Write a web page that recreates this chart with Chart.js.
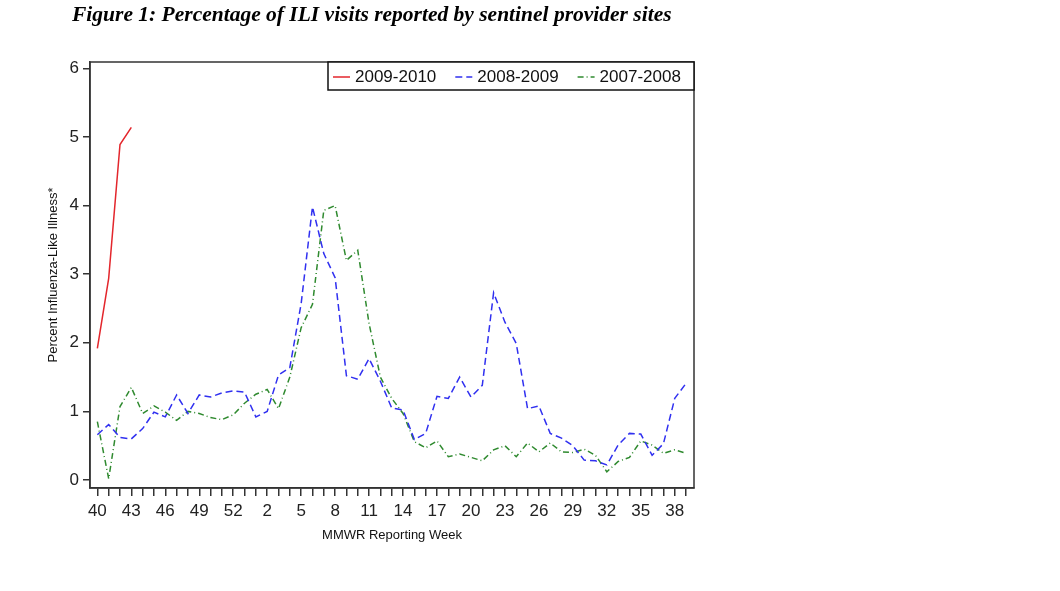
<!DOCTYPE html>
<html>
<head>
<meta charset="utf-8">
<title>ILI visits</title>
<script src="https://cdn.jsdelivr.net/npm/chart.js@4/dist/chart.umd.min.js"></script>
<style>
  body { margin: 0; background: #fff; }
  #wrap { position: relative; width: 1060px; height: 591px; }
  #figTitle {
    position: absolute; left: 72px; top: 2px;
    font: italic bold 21.5px "Liberation Serif", "Times New Roman", serif;
    color: #000; white-space: nowrap;
  }
</style>
</head>
<body>
<div id="wrap">
  <div id="figTitle">Figure 1: Percentage of ILI visits reported by sentinel provider sites</div>
  <canvas id="chartCanvas" width="1060" height="591"></canvas>
</div>
<script>
// MMWR weeks, season runs week 40 through week 39 (53-week year)
const weeks = [40, 41, 42, 43, 44, 45, 46, 47, 48, 49, 50, 51, 52, 53,
    1, 2, 3, 4, 5, 6, 7, 8, 9, 10, 11, 12, 13, 14, 15, 16, 17, 18, 19, 20,
    21, 22, 23, 24, 25, 26, 27, 28, 29, 30, 31, 32, 33, 34, 35, 36, 37, 38, 39];
const labeledWeeks = [40, 43, 46, 49, 52, 2, 5, 8, 11, 14, 17, 20, 23, 26, 29, 32, 35, 38];
const yTicks = [0, 1, 2, 3, 4, 5, 6];

const season0910 = [1.92, 2.94, 4.89, 5.14];
const season0809 = [0.66, 0.81, 0.62, 0.60, 0.75, 0.99, 0.92, 1.24, 0.97, 1.24,
    1.21, 1.27, 1.30, 1.28, 0.92, 1.00, 1.53, 1.64, 2.57, 3.98,
    3.30, 2.95, 1.52, 1.47, 1.77, 1.44, 1.05, 1.02, 0.59, 0.68,
    1.22, 1.19, 1.50, 1.21, 1.38, 2.73, 2.30, 1.99, 1.04, 1.08,
    0.68, 0.61, 0.50, 0.29, 0.28, 0.22, 0.51, 0.68, 0.67, 0.36,
    0.53, 1.19, 1.41];
const season0708 = [0.85, 0.02, 1.07, 1.35, 0.97, 1.08, 0.99, 0.87, 1.00, 0.97,
    0.91, 0.88, 0.95, 1.12, 1.25, 1.32, 1.04, 1.50, 2.22, 2.56,
    3.93, 4.00, 3.20, 3.35, 2.28, 1.50, 1.19, 0.97, 0.56, 0.47,
    0.57, 0.34, 0.38, 0.33, 0.28, 0.44, 0.50, 0.34, 0.54, 0.41,
    0.54, 0.41, 0.40, 0.45, 0.36, 0.12, 0.27, 0.33, 0.57, 0.51,
    0.39, 0.44, 0.39];

const axisColor = '#333';
const sansFont = '"Liberation Sans", Arial, sans-serif';

function toPoints(values) {
    return values.map((v, i) => ({ x: i, y: v }));
}

// box around the plot plus the framed legend in the top right corner
const frameAndLegend = {
    id: 'frameAndLegend',
    afterDraw(chart) {
        const ctx = chart.ctx;
        const area = chart.chartArea;
        ctx.save();
        ctx.strokeStyle = axisColor;
        ctx.lineWidth = 1.5;
        ctx.strokeRect(area.left, area.top, area.right - area.left, area.bottom - area.top);

        const boxW = 366, boxH = 28;
        const boxL = area.right - boxW, boxT = area.top;
        ctx.fillStyle = '#fff';
        ctx.fillRect(boxL, boxT, boxW, boxH);
        ctx.strokeStyle = '#111';
        ctx.lineWidth = 1.5;
        ctx.strokeRect(boxL, boxT, boxW, boxH);

        ctx.font = '17px ' + sansFont;
        ctx.textBaseline = 'middle';
        let x = boxL + 5;
        const cy = boxT + boxH / 2 + 1;
        chart.data.datasets.forEach((ds) => {
            ctx.strokeStyle = ds.borderColor;
            ctx.lineWidth = 1.5;
            ctx.setLineDash(ds.borderDash || []);
            ctx.beginPath();
            ctx.moveTo(x, cy);
            ctx.lineTo(x + 17, cy);
            ctx.stroke();
            ctx.setLineDash([]);
            ctx.fillStyle = '#111';
            ctx.fillText(ds.label, x + 22, cy);
            x += 22 + ctx.measureText(ds.label).width + 19;
        });
        ctx.restore();
    }
};

const ctx = document.getElementById('chartCanvas').getContext('2d');
const chart = new Chart(ctx, {
    type: 'line',
    data: {
        datasets: [{
            label: '2009-2010',
            data: toPoints(season0910),
            borderColor: '#e3262c',
            borderWidth: 1.5,
            pointRadius: 0,
            tension: 0
        }, {
            label: '2008-2009',
            data: toPoints(season0809),
            borderColor: '#3030f0',
            borderWidth: 1.5,
            borderDash: [7, 4],
            pointRadius: 0,
            tension: 0
        }, {
            label: '2007-2008',
            data: toPoints(season0708),
            borderColor: '#2f8a2f',
            borderWidth: 1.5,
            borderDash: [6, 3, 1, 3],
            pointRadius: 0,
            tension: 0
        }]
    },
    options: {
        responsive: false,
        animation: false,
        devicePixelRatio: 1,
        layout: { padding: { left: 0, top: 62, right: 366, bottom: 48 } },
        plugins: {
            legend: { display: false },
            tooltip: { enabled: false }
        },
        scales: {
            x: {
                type: 'linear',
                min: -0.65,
                max: 52.7,
                afterBuildTicks: (scale) => {
                    scale.ticks = weeks.map((w, i) => ({ value: i }));
                },
                afterFit: (scale) => { scale.height = 55; },
                ticks: {
                    autoSkip: false,
                    maxRotation: 0,
                    padding: 5,
                    color: '#222',
                    font: { family: sansFont, size: 17 },
                    callback: (value) => {
                        const w = weeks[value];
                        return labeledWeeks.includes(w) ? String(w) : '';
                    }
                },
                grid: { drawOnChartArea: false, drawTicks: true, tickLength: 8, color: axisColor, lineWidth: 1.5 },
                border: { display: true, color: axisColor, width: 1.5 },
                title: {
                    display: true,
                    text: 'MMWR Reporting Week',
                    color: '#111',
                    font: { family: sansFont, size: 13 },
                    padding: { top: 0, bottom: 0 }
                }
            },
            y: {
                min: -0.116,
                max: 6.092,
                afterBuildTicks: (scale) => {
                    scale.ticks = yTicks.map((v) => ({ value: v }));
                },
                afterFit: (scale) => { scale.width = 90; },
                ticks: {
                    padding: 4,
                    color: '#222',
                    font: { family: sansFont, size: 17 }
                },
                grid: { drawOnChartArea: false, drawTicks: true, tickLength: 7, color: axisColor, lineWidth: 1.5 },
                border: { display: true, color: axisColor, width: 1.5 },
                title: {
                    display: true,
                    text: 'Percent Influenza-Like Illness*',
                    color: '#111',
                    font: { family: sansFont, size: 13 },
                    padding: { top: 46, bottom: 0 }
                }
            }
        }
    },
    plugins: [frameAndLegend]
});
</script>
</body>
</html>
